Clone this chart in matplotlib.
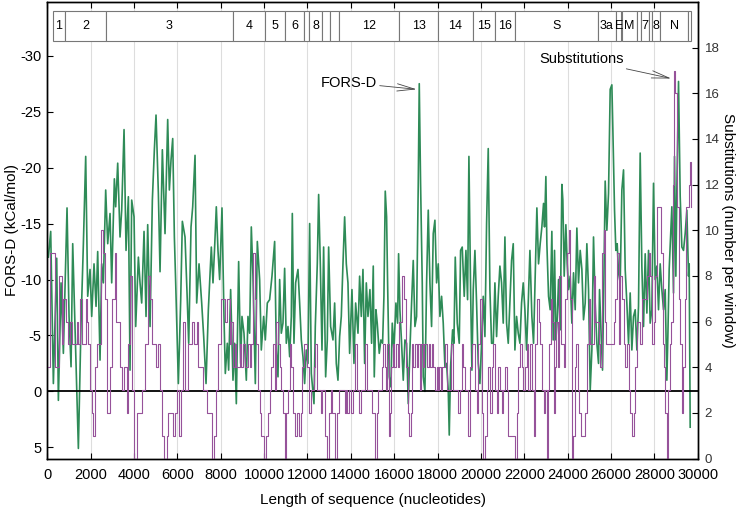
import matplotlib
matplotlib.use("Agg")
import matplotlib.pyplot as plt
import matplotlib.transforms as mtransforms
from matplotlib.patches import Rectangle

plt.rcParams['font.family'] = ['Liberation Sans', 'DejaVu Sans']
plt.rcParams['axes.unicode_minus'] = False

# FORS-D (kCal/mol), left axis
fors_pos = [53, 160, 283, 437, 514, 637, 744, 913, 1006, 1098, 1175, 1313, 1436, 1559, 1667, 1774,
            1866, 1974, 2051, 2158, 2251, 2327, 2435, 2512, 2589, 2696, 2789, 2896, 2973, 3096, 3157,
            3250, 3357, 3434, 3542, 3634, 3742, 3818, 3895, 4003, 4080, 4203, 4279, 4356, 4464, 4556,
            4633, 4741, 4848, 4940, 5017, 5125, 5202, 5309, 5432, 5555, 5632, 5709, 5786, 5863, 5924,
            6047, 6155, 6231, 6354, 6447, 6524, 6631, 6708, 6816, 6892, 7000, 7123, 7215, 7323, 7430,
            7490, 7567, 7644, 7720, 7797, 7874, 7951, 8059, 8151, 8212, 8304, 8366, 8458, 8566, 8643,
            8720, 8827, 8919, 8981, 9073, 9181, 9257, 9334, 9411, 9488, 9596, 9688, 9795, 9872, 9980,
            10057, 10149, 10256, 10364, 10487, 10564, 10641, 10718, 10794, 10871, 10948, 11025, 11102,
            11179, 11256, 11302, 11378, 11455, 11563, 11640, 11717, 11793, 11870, 11947, 12024, 12101,
            12178, 12301, 12362, 12454, 12516, 12593, 12670, 12746, 12839, 12915, 12977, 13069, 13177,
            13254, 13330, 13407, 13484, 13561, 13638, 13715, 13792, 13868, 13945, 14053, 14145, 14222,
            14330, 14406, 14483, 14560, 14637, 14714, 14791,
            14881, 14958, 15035, 15081, 15158, 15219, 15311, 15388, 15465, 15527, 15588, 15650, 15696,
            15772, 15849, 15911, 15988, 16080, 16157, 16203, 16264, 16341, 16418, 16495, 16572, 16649,
            16725, 16802, 16879, 16956, 17033, 17110, 17156, 17217, 17294, 17340, 17417, 17494, 17571,
            17648, 17724, 17801, 17878, 17955, 18032, 18109, 18186, 18262, 18339, 18416, 18493, 18539,
            18601, 18693, 18754, 18816, 18908, 19000, 19062, 19138, 19230, 19308, 19384, 19446, 19523,
            19584, 19646, 19723, 19799, 19876, 19953, 20030, 20107, 20184, 20261, 20337, 20414, 20491,
            20568, 20645, 20722, 20798, 20875, 20952, 21029, 21106, 21183, 21260, 21336, 21413, 21490,
            21567, 21644, 21721, 21798, 21874, 21951, 22028, 22105, 22182, 22259,
            22349, 22426, 22503, 22580, 22656, 22733, 22810, 22887, 22933, 22995, 23041, 23118, 23194,
            23271, 23333, 23394, 23456, 23517, 23579, 23655, 23732, 23778, 23840, 23917, 23978, 24040,
            24117, 24193, 24270, 24347, 24424, 24501, 24578, 24655, 24731, 24808, 24885, 24962, 25039,
            25116, 25192, 25269, 25346, 25423, 25469, 25546, 25607, 25669, 25730, 25807, 25884, 25961,
            26038, 26084, 26161, 26222, 26284, 26345, 26422, 26499, 26576, 26653, 26729, 26806, 26883,
            26960, 27037, 27114, 27191, 27267, 27344, 27421, 27498, 27575, 27652, 27729, 27805, 27882,
            27959, 28036, 28113, 28190, 28266, 28343, 28420, 28497, 28574, 28620, 28681, 28743, 28804,
            28881, 28927, 28989, 29035, 29112, 29189, 29266, 29342, 29419, 29496, 29573, 29604, 29650]
fors_val = [-12.0, -14.3, -0.7, -11.9, 0.8, -9.7, -3.4, -16.4, -6.7, -2.2, -13.2, -3.7, 5.1, -6.1, -13.2, -21.0,
            -8.5, -10.9, -6.7, -11.4, -7.6, -12.5, -2.8, -11.4, -9.7, -18.0, -13.2, -15.9, -9.7, -19.0, -16.5,
            -20.4, -13.8, -16.2, -23.4, -12.6, -17.4, -1.9, -17.1, -15.6, -5.8, -12.0, -9.7, -7.9, -14.3, -6.7,
            -14.9, -5.8, -17.1, -21.6, -24.7, -17.7, -10.7, -21.6, -14.1, -24.3, -18.0, -20.7, -22.6, -13.8, -9.7,
            -0.7, -8.2, -15.2, -13.8, -8.8, -4.3, -14.7, -16.5, -21.1, -7.9, -11.4, -7.9, -4.9, -0.7, -7.3,
            -9.7, -12.9, -9.7, -12.9, -16.5, -12.6, -10.0, -16.4, -6.7, -1.6, -4.3, -1.9, -9.1, -1.0, -4.3,
            1.1, -11.6, -2.5, -6.7, -5.2, -1.0, -6.7, -5.2, -14.7, -10.3, -0.7, -13.4, -10.0, -3.7, -6.7,
            -4.6, -7.9, -8.2, -10.3, -13.4, -3.7, -1.3, -10.0, -5.2, -6.1, -11.0, -4.3, -5.8,
            -3.1, -6.7, -15.9, -4.3, -9.7, -10.9, -7.9, -4.6, -3.1, -0.7, -3.7, -2.5, -15.0,
            -1.6, 1.1, -5.8, -11.4, -17.6, -11.4, -3.7, -12.9, -1.3, -4.6, -12.9, -5.8, -4.6,
            -7.9, -2.5, -1.0, -4.9, -6.7, -11.4, -15.6, -11.4, -9.7, -3.4, -9.1, -2.5, -7.9,
            -5.2, -10.3, -6.7, -10.9, -2.5, -9.7, -6.7,
            -9.1, -4.3, -11.2, -1.3, -7.3, -6.1, -3.4, -4.6, -4.3, -8.5, -17.9, -15.6, -9.7,
            -1.3, -0.4, -6.1, -3.7, -7.9, -6.1, -12.3, -7.3, -4.3, -1.0, -4.6, -4.3, 1.1,
            -3.7, -7.9, -11.7, -5.8, -6.7, -18.6, -27.5, -18.6, -9.7, -1.3, 0.0, -9.7, -16.2,
            -9.7, -5.8, -14.1, -15.3, -9.7, -11.4, -6.7, -8.5, -6.1, -2.2, -2.5, -0.1, 3.9,
            -2.2, -5.5, -4.3, -12.0, -6.1, -4.3, -12.6, -12.9, -8.5, -12.6, -8.2, -21.0, -9.1,
            -1.9, -9.1, -12.6, -7.9, -2.5, -0.7, -4.3, -8.5, -4.9, -15.0, -21.7, -9.1, -4.3,
            -4.3, -9.7, -4.9, -8.5, -11.2, -9.7, -6.1, -13.8, -6.1, -4.3, -7.9, -11.7, -13.2,
            -3.7, -6.7, -5.2, -4.3, -7.9, -9.7, -7.3, -3.7, -7.9, -12.6,
            -6.7, -4.3, -10.3, -16.4, -11.4, -13.2, -14.7, -16.8, -14.7, -19.2, -13.2, -8.5, -7.3,
            -14.3, -4.6, -12.6, -4.6, -6.4, -10.0, -5.5, -18.5, -17.1, -10.3, -14.9, -11.4, -9.1,
            -10.3, -6.1, -10.6, -7.3, -14.6, -9.7, -12.6, -10.9, -6.4, -7.9, -13.2, -9.1, -0.1,
            -3.7, -13.8, -7.9, -4.3, -2.5, -9.1, -4.9, -1.9, -9.7, -18.8, -14.4, -17.7, -27.0,
            -27.4, -23.4, -16.2, -12.6, -13.2, -10.6, -9.7, -18.0, -19.8, -10.9, -7.9, -4.3, -8.8,
            -3.7, -6.7, -7.3, -3.7, -7.6, -21.3, -11.2, -5.8, -12.3, -7.0, -12.6, -6.1, -7.3,
            -18.6, -10.0, -11.2, -7.3, -11.4, -9.1, -7.3, -9.1, -1.0, -4.9, -10.9, -13.8, -16.5,
            -8.8, -21.0, -10.3, -18.0, -27.7, -17.4, -12.9, -12.6, -14.1, -16.2, -10.3, -11.4, 3.2]

# substitutions per window, right axis
subs_pos = [53, 114, 283, 360, 483, 545, 668, 744, 852, 944, 1052, 1129, 1252, 1359, 1436, 1513, 1620,
            1774, 1851, 1897, 1974, 2051, 2097, 2205, 2281, 2358, 2481, 2589, 2666, 2743, 2819, 2896,
            2973, 3127, 3173, 3250, 3357, 3465, 3557, 3665, 3742, 3818, 3926, 4018, 4126, 4233, 4356,
            4510, 4664, 4756, 4848, 5017, 5125, 5217, 5309, 5401, 5509, 5586, 5816, 5893, 5986, 6078,
            6170, 6247, 6354, 6477, 6693, 6785, 6892, 6969, 7061, 7200, 7354,
            7597, 7690, 7797, 7874, 7997, 8105, 8212, 8304, 8412, 8489, 8566, 8643, 8720, 8873, 8950,
            9027, 9104, 9257, 9334, 9411, 9488, 9565, 9642, 9719, 9795, 9872, 9995, 10103, 10180, 10256,
            10333, 10410, 10487, 10564, 10641, 10718, 10794, 10871, 10948, 11025, 11102, 11179, 11256,
            11333, 11440, 11532, 11594, 11686, 11747, 11840, 11993, 12070, 12147, 12301, 12362, 12454,
            12608, 12685, 12793, 12885, 12977, 13069, 13131, 13254, 13346, 13438, 13715, 13776, 13838,
            13914, 14022, 14114, 14176, 14299, 14360, 14453, 14637, 14760,
            14958, 15112, 15188, 15265, 15419, 15496, 15573, 15619, 15680, 15742, 15803, 15865, 15926,
            15988, 16080, 16157, 16234, 16341, 16464, 16541, 16618, 16695, 16756, 16818, 16879, 16956,
            17033, 17110, 17187, 17233, 17310, 17386, 17525, 17586, 17648, 17724, 17771, 17893, 17955,
            18016, 18078, 18140, 18201, 18324, 18447, 18631, 18693, 18954, 19031, 19108, 19185, 19261,
            19415, 19492, 19569, 19723, 19799, 19876, 19953, 20030, 20107, 20184, 20261, 20337, 20414,
            20491, 20568, 20645, 20722, 20798, 20875, 20952, 21029, 21106, 21183, 21260, 21567, 21644,
            21721, 21798, 21874, 21951, 22028, 22105, 22182, 22259,
            22349, 22426, 22503, 22580, 22656, 22733, 22810, 22887, 22964, 23025, 23087, 23148, 23210,
            23271, 23348, 23394, 23456, 23548, 23609, 23671, 23809, 23886, 23963, 24040, 24117, 24193,
            24255, 24316, 24378, 24455, 24532, 24608, 24808, 24885, 24962, 25039, 25192, 25269, 25423,
            25500, 25577, 25654, 25730, 25777, 26115, 26192, 26268, 26345, 26422, 26499, 26576, 26653,
            26729, 26806, 26883, 26960, 27037, 27114, 27191, 27344, 27421, 27652, 27729, 27805, 27882,
            27959, 28036, 28113, 28297, 28374, 28451, 28497, 28574, 28620, 28697, 28774, 28850, 28912,
            28958, 29035, 29112, 29189, 29266, 29312, 29388, 29450, 29511, 29573, 29634, 29696]
subs_val = [4, 9, 9, 4, 4, 8, 5, 7, 6, 5, 6, 5, 5, 6, 5, 7, 5,
            7, 6, 5, 3, 2, 1, 4, 5, 5, 10, 9, 7, 2, 2, 4,
            7, 9, 6, 6, 4, 3, 4, 2, 5, 8, 3, 0, 2, 2, 3,
            5, 8, 7, 5, 4, 5, 3, 1, 0, 1, 2, 1, 2, 3, 1,
            3, 6, 3, 5, 6, 5, 6, 4, 4, 3, 2,
            0, 1, 3, 5, 7, 7, 6, 7, 5, 6, 4, 5, 4, 5, 4,
            5, 4, 5, 4, 5, 9, 7, 5, 3, 2, 1, 0, 1, 2, 3,
            4, 5, 3, 6, 5, 4, 3, 2, 0, 2, 3, 5, 4,
            2, 1, 2, 1, 2, 4, 5, 4, 2, 3, 4, 5, 3,
            2, 3, 1, 0, 2, 3, 2, 0, 2, 3, 2, 3, 2,
            3, 2, 3, 5, 3, 2, 3, 5, 3,
            2, 0, 2, 3, 4, 5, 4, 3, 5, 1, 2, 4, 5,
            4, 5, 4, 6, 8, 7, 4, 2, 1, 2, 5, 4, 5,
            4, 5, 3, 5, 4, 5, 4, 5, 4, 5, 4, 3, 4,
            3, 4, 3, 4, 5, 3, 5, 3, 2, 3, 5, 4, 3,
            1, 4, 5, 3, 2, 5, 7, 2, 0, 1, 3, 4, 2,
            4, 5, 3, 2, 4, 3, 2, 3, 4, 3, 1, 0, 2,
            4, 5, 4, 3, 4, 5, 3, 5,
            3, 1, 5, 7, 6, 5, 3, 2, 3, 0, 3, 5, 7,
            6, 2, 4, 6, 4, 8, 5, 4, 7, 9, 10, 7, 0,
            1, 4, 5, 3, 2, 1, 2, 5, 7, 5, 8, 6, 5,
            4, 9, 10, 6, 5, 6, 7, 9, 5, 8, 7, 5, 4,
            5, 3, 2, 1, 2, 4, 6, 5, 7, 8, 9, 8, 5,
            6, 8, 11, 9, 5, 4, 2, 0, 3, 5, 6, 12, 17,
            16, 11, 7, 5, 2, 4, 7, 11, 11, 12, 13, 11]

# genome map boxes
gene_labels = ["1", "2", "3", "4", "5", "6", "", "8", "", "", "12", "13", "14", "15", "16",
               "S", "3a", "E", "M", "", "7", "", "8", "N", ""]
gene_start = [266, 806, 2720, 8555, 10055, 10973, 11843, 12092, 12686, 13025, 13442, 16237, 18040,
              19621, 20659, 21563, 25393, 26245, 26523, 27202, 27394, 27756, 27894, 28274, 29558]
gene_end = [805, 2719, 8554, 10054, 10972, 11842, 12091, 12685, 13024, 13441, 16236, 18039, 19620,
            20658, 21552, 25384, 26220, 26472, 27191, 27387, 27759, 27887, 28259, 29533, 29674]

green = '#2E8B57'
purple = '#96529A'

fig = plt.figure(figsize=(7.38, 5.11), dpi=100)
ax = fig.add_axes([0.064, 0.1027, 0.8815, 0.8933])

ax.set_xlim(0, 30000)
ax.set_ylim(6, -34.8)
ax.set_xticks(range(0, 30001, 2000))
ax.set_yticks([-30, -25, -20, -15, -10, -5, 0, 5])
ax.grid(axis='x', color='#dddddd', lw=0.8)
ax.set_axisbelow(True)
ax.axhline(0, color='black', lw=1.3, zorder=3)
ax.plot(fors_pos, fors_val, color=green, lw=1.2, zorder=2)

ax.tick_params(axis='x', direction='in', length=4, top=True, pad=7, labelsize=10.5)
ax.tick_params(axis='y', direction='in', length=4, pad=4, labelsize=10.5)
ax.set_xlabel('Length of sequence (nucleotides)', fontsize=11, labelpad=8)
ax.set_ylabel('FORS-D (kCal/mol)', fontsize=11, labelpad=1)

ax2 = ax.twinx()
ax2.set_ylim(0, 20)
ax2.set_yticks(range(0, 19, 2))
ax2.step(subs_pos, subs_val, where='post', color=purple, lw=0.8)
ax2.tick_params(axis='y', direction='in', length=4, pad=5, labelsize=9.5, labelcolor='#333333')
ax2.set_ylabel('Substitutions (number per window)', fontsize=11, rotation=270, labelpad=11)

for a in (ax, ax2):
    for s in a.spines.values():
        s.set_linewidth(1.0)

# gene boxes along the top
trans = mtransforms.blended_transform_factory(ax.transData, ax.transAxes)
for lab, g0, g1 in zip(gene_labels, gene_start, gene_end):
    ax2.add_patch(Rectangle((g0, 0.915), g1 - g0, 0.065, transform=trans,
                            facecolor='white', edgecolor='#777777', lw=0.8, zorder=5))
    if lab:
        ax2.text((g0 + g1) / 2, 0.947, lab, transform=trans, ha='center', va='center',
                 fontsize=9, zorder=6)

ax.annotate('FORS-D', xy=(17034, -27.0), xytext=(15204, -27.6),
            ha='right', va='center', fontsize=10.5,
            arrowprops=dict(arrowstyle='->,head_length=1.2,head_width=0.25', color='#444444', lw=0.6,
                            shrinkA=0, shrinkB=0))
ax2.annotate('Substitutions', xy=(28771, 16.65), xytext=(26577, 17.5),
             ha='right', va='center', fontsize=10.5,
             arrowprops=dict(arrowstyle='->,head_length=1.2,head_width=0.25', color='#444444', lw=0.6,
                             shrinkA=0, shrinkB=0))

fig.savefig('out.png', dpi=100)
